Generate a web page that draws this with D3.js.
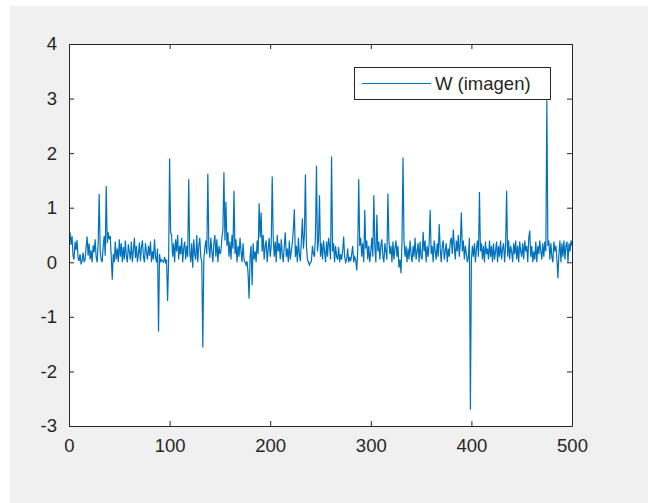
<!DOCTYPE html>
<html>
<head>
<meta charset="utf-8">
<script src="https://cdn.jsdelivr.net/npm/d3@7"></script>
<style>
  html, body { margin: 0; padding: 0; background: #ffffff; }
  svg { display: block; }
  text { font-family: "Liberation Sans", Arial, Helvetica, sans-serif; }
</style>
</head>
<body>
<svg id="fig" width="648" height="503"></svg>
<script>
// W (imagen) series, one value per sample index 1..500
const wRow1 = [0.55,0.32,0.48,0.12,0.05,0.38,0.22,0.41,0.08,0.02,
  0.15,-0.04,0.03,0.18,0.0,0.05,0.28,0.47,0.12,0.35,
  0.05,0.22,0.0,0.31,0.18,0.42,0.09,0.0,0.36,1.25,
  0.2,0.05,0.0,0.3,0.48,0.12,1.40,0.35,0.55,0.42,
  0.48,0.1,-0.32,0.15,0.0,0.38,0.05,0.25,0.0,0.42];
const wRow2 = [0.1,0.35,0.0,0.28,0.05,0.4,0.12,0.0,0.33,0.18,
  0.05,0.38,0.0,0.22,0.45,0.08,0.3,0.0,0.15,0.36,
  0.02,0.28,0.4,0.1,0.0,0.35,0.18,0.05,0.3,0.12,
  0.38,0.0,0.2,0.05,0.42,0.1,0.0,0.25,-1.27,0.15,
  0.0,0.05,0.02,0.0,0.1,0.0,0.05,-0.71,0.0,1.9];
const wRow3 = [0.55,0.5,0.1,0.35,0.0,0.42,0.2,0.5,0.05,0.3,
  0.15,0.45,0.0,0.25,0.38,0.05,0.3,0.1,1.52,0.2,
  0.0,0.35,-0.1,0.42,0.15,0.05,0.5,0.0,0.3,0.45,
  0.1,0.0,-1.56,0.05,0.25,0.4,0.15,1.62,0.3,0.08,
  0.45,0.2,0.0,0.35,0.5,0.1,0.42,0.0,0.3,0.15];
const wRow4 = [0.2,0.45,0.6,1.65,0.4,1.11,0.3,0.55,0.1,0.38,
  0.05,0.5,0.25,1.31,0.15,0.42,0.0,0.3,0.1,0.45,
  0.2,0.0,0.35,0.05,0.0,-0.05,0.02,-0.2,-0.67,0.1,
  0.3,-0.42,0.35,0.05,0.2,0.0,0.4,0.15,1.08,0.45,
  0.91,0.2,0.5,0.05,0.3,0.4,0.0,0.25,0.45,0.1];
const wRow5 = [0.3,1.57,0.45,0.1,0.38,0.0,0.5,0.2,0.35,0.05,
  0.42,0.15,0.0,0.3,0.55,0.1,0.25,0.0,0.4,0.05,
  0.2,0.35,0.6,0.97,0.1,0.3,0.0,0.45,0.15,0.02,
  0.4,0.8,0.25,0.5,1.61,0.3,0.05,0.0,-0.05,0.0,
  0.02,0.3,0.15,0.1,0.5,1.77,0.2,0.4,1.23,0.1];
const wRow6 = [0.35,0.05,0.4,0.2,0.0,0.38,0.1,0.45,0.3,0.05,
  1.94,0.2,0.35,0.0,0.3,0.1,0.05,0.28,0.0,0.15,
  0.05,0.2,0.47,0.1,0.0,0.05,0.25,0.0,0.1,0.02,
  0.15,0.3,0.0,0.1,0.05,-0.15,0.2,1.52,0.3,0.45,
  0.1,0.35,0.0,0.96,0.25,0.4,0.05,0.3,0.0,0.2];
const wRow7 = [0.45,0.1,1.23,0.3,0.0,0.87,0.2,0.38,0.05,0.3,
  0.42,0.1,0.0,0.35,0.2,0.05,1.26,0.4,0.15,0.3,
  0.0,0.38,0.05,0.25,0.4,0.1,0.3,-0.1,0.05,-0.2,
  0.35,1.92,0.4,0.1,0.3,0.0,0.25,0.05,0.4,0.15,
  0.0,0.3,0.1,0.45,0.05,0.2,0.35,0.0,0.38,0.1];
const wRow8 = [0.05,0.56,0.2,0.4,0.0,0.3,0.1,0.35,0.96,0.15,
  0.3,0.0,0.4,0.2,0.05,0.35,0.1,0.70,0.25,0.0,
  0.3,0.4,0.05,0.2,0.35,0.0,0.25,0.1,0.38,0.45,
  0.15,0.6,0.3,0.05,0.4,0.2,0.5,0.1,0.35,0.91,
  0.2,0.4,0.05,0.3,0.15,0.0,0.1,0.45,-2.7,0.05];
const wRow9 = [0.3,0.1,0.35,0.0,0.25,0.4,0.1,1.29,0.2,0.35,
  0.05,0.3,0.0,0.38,0.15,0.25,0.05,0.4,0.1,0.3,
  0.0,0.35,0.05,0.2,0.38,0.0,0.3,0.1,0.4,0.05,
  0.25,0.35,0.0,0.3,1.31,0.1,0.4,0.05,0.3,0.2,
  0.0,0.35,0.15,0.4,0.05,0.3,0.0,0.38,0.2,0.1];
const wRow10 = [0.35,0.05,0.4,0.2,0.3,0.0,0.45,0.58,0.1,0.3,
  0.0,0.2,0.05,0.38,0.0,0.3,0.15,0.4,0.2,0.05,
  0.35,0.1,0.38,0.2,2.97,0.3,0.4,0.05,0.35,0.1,
  0.0,0.38,0.2,0.3,0.05,-0.29,0.15,0.4,0.0,0.35,
  0.1,0.4,0.05,0.3,0.38,0.0,0.35,0.2,0.4,0.3];

const wValues = [].concat(wRow1, wRow2, wRow3, wRow4, wRow5,
                          wRow6, wRow7, wRow8, wRow9, wRow10);
const xTicks = [0, 100, 200, 300, 400, 500];
const yTicks = [-3, -2, -1, 0, 1, 2, 3, 4];
const seriesName = "W (imagen)";

const svg = d3.select("#fig");

// figure background
svg.append("rect").attr("x", 10).attr("y", 6)
  .attr("width", 638).attr("height", 497).attr("fill", "#f0f0f0");

const plot = { left: 69, top: 44, right: 572, bottom: 426 };

const x = d3.scaleLinear().domain([0, 500]).range([plot.left, plot.right]);
const y = d3.scaleLinear().domain([-3, 4]).range([plot.bottom, plot.top]);

// axes area
svg.append("rect")
  .attr("x", plot.left).attr("y", plot.top)
  .attr("width", plot.right - plot.left).attr("height", plot.bottom - plot.top)
  .attr("fill", "#ffffff");

// data line
const line = d3.line()
  .x((d, i) => x(i + 1))
  .y(d => y(d));

svg.append("defs").append("clipPath").attr("id", "clip")
  .append("rect")
  .attr("x", plot.left).attr("y", plot.top)
  .attr("width", plot.right - plot.left).attr("height", plot.bottom - plot.top);

svg.append("path")
  .datum(wValues)
  .attr("clip-path", "url(#clip)")
  .attr("d", line)
  .attr("fill", "none")
  .attr("stroke", "#0072bd")
  .attr("stroke-width", 1.2)
  .attr("stroke-linejoin", "miter");

const axisColor = "#262626";
const tickLen = 5;
const labelSize = "18.5px";
const plainNum = d => String(d);

function styleAxis(g) {
  g.select(".domain").attr("stroke", axisColor).attr("stroke-width", 1);
  g.selectAll(".tick line").attr("stroke", axisColor).attr("stroke-width", 1);
  g.selectAll(".tick text").attr("fill", axisColor)
    .attr("font-size", labelSize)
    .attr("font-family", "'Liberation Sans', Arial, sans-serif");
}

// bottom axis with inward ticks
svg.append("g")
  .attr("transform", `translate(0,${plot.bottom})`)
  .call(d3.axisBottom(x).tickValues(xTicks).tickFormat(plainNum)
    .tickSizeInner(-tickLen).tickSizeOuter(0).tickPadding(13))
  .call(styleAxis);

// top axis, ticks only
svg.append("g")
  .attr("transform", `translate(0,${plot.top})`)
  .call(d3.axisTop(x).tickValues(xTicks).tickFormat("")
    .tickSizeInner(-tickLen).tickSizeOuter(0))
  .call(styleAxis);

// left axis
svg.append("g")
  .attr("transform", `translate(${plot.left},0)`)
  .call(d3.axisLeft(y).tickValues(yTicks).tickFormat(plainNum)
    .tickSizeInner(-tickLen).tickSizeOuter(0).tickPadding(12))
  .call(styleAxis);

// right axis, ticks only
svg.append("g")
  .attr("transform", `translate(${plot.right},0)`)
  .call(d3.axisRight(y).tickValues(yTicks).tickFormat("")
    .tickSizeInner(-tickLen).tickSizeOuter(0))
  .call(styleAxis);

// legend
const legend = svg.append("g");
legend.append("rect")
  .attr("x", 354.5).attr("y", 67.5)
  .attr("width", 196).attr("height", 32)
  .attr("fill", "#ffffff")
  .attr("stroke", axisColor).attr("stroke-width", 1);
legend.append("line")
  .attr("x1", 362).attr("x2", 431)
  .attr("y1", 83.5).attr("y2", 83.5)
  .attr("stroke", "#0072bd").attr("stroke-width", 1.2);
legend.append("text")
  .attr("x", 435).attr("y", 90)
  .attr("font-size", labelSize)
  .attr("fill", axisColor)
  .text(seriesName);
</script>
</body>
</html>
